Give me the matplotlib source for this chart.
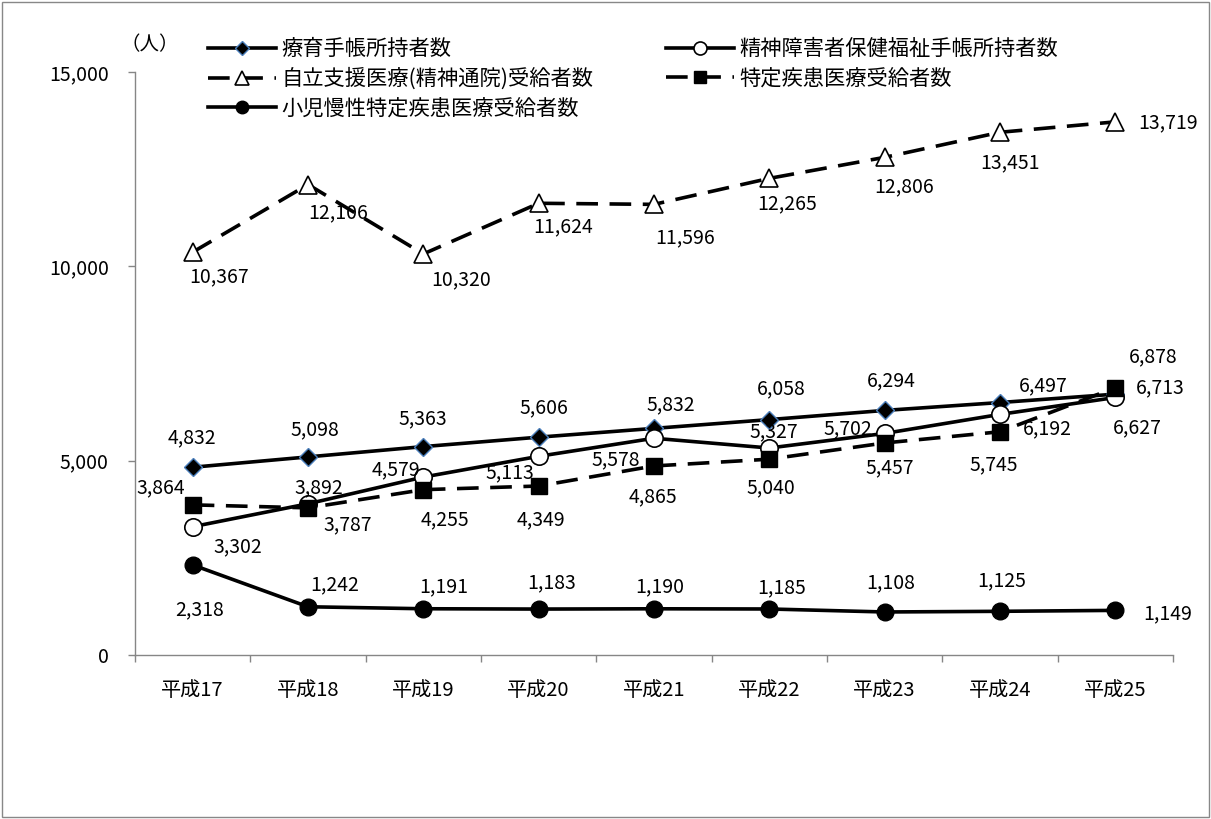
import matplotlib
matplotlib.use("Agg")
import matplotlib.pyplot as plt
from matplotlib.patches import Rectangle
from matplotlib.ticker import FuncFormatter, FixedLocator

plt.rcParams["font.family"] = ["Noto Sans CJK JP", "DejaVu Sans"]

# --------------------------------------------------
# DATA
# --------------------------------------------------
years = ["平成17", "平成18", "平成19", "平成20", "平成21",
         "平成22", "平成23", "平成24", "平成25"]

ryoiku = [4832, 5098, 5363, 5606, 5832, 6058, 6294, 6497, 6713]
seishin_techo = [3302, 3892, 4579, 5113, 5578, 5327, 5702, 6192, 6627]
jiritsu = [10367, 12106, 10320, 11624, 11596, 12265, 12806, 13451, 13719]
tokutei = [3864, 3787, 4255, 4349, 4865, 5040, 5457, 5745, 6878]
shoni = [2318, 1242, 1191, 1183, 1190, 1185, 1108, 1125, 1149]

names = ["療育手帳所持者数", "精神障害者保健福祉手帳所持者数",
         "自立支援医療(精神通院)受給者数", "特定疾患医療受給者数",
         "小児慢性特定疾患医療受給者数"]

# label offsets in pixels (dx right, dy down)
off_ryoiku = [(-1, -29), (7, -27), (-1, -28), (5, -29), (17, -24),
              (12, -31), (7, -30), (43, -17), (45, -6)]
off_seishin = [(45, 20), (11, -16), (-27, -7), (-29, 16), (-38, 22),
               (4, -16), (-37, -5), (47, 14), (22, 30)]
off_jiritsu = [(26, 25), (30, 28), (38, 26), (24, 24), (31, 33),
               (18, 25), (19, 29), (10, 31), (53, 1)]
off_tokutei = [(-32, -17), (40, 17), (22, 30), (2, 34), (-1, 31),
               (2, 29), (5, 25), (-6, 33), (38, -31)]
off_shoni = [(7, 45), (27, -22), (20, -22), (13, -26), (6, -22),
             (12, -21), (6, -29), (2, -31), (52, 3)]

# --------------------------------------------------
# FIGURE
# --------------------------------------------------
fig = plt.figure(figsize=(12.11, 8.19), dpi=100)
ax = fig.add_axes([0.1115, 0.2002, 0.8571, 0.7118])

x = list(range(len(years)))
lw = 2.6
dash = (0, (6, 3.2))

series = [
    (ryoiku, off_ryoiku, dict(linestyle="-", marker="D", markersize=9,
                              markerfacecolor="black", markeredgecolor="#4A7EBB",
                              markeredgewidth=1.0)),
    (seishin_techo, off_seishin, dict(linestyle="-", marker="o", markersize=12.5,
                                      markerfacecolor="white", markeredgecolor="black",
                                      markeredgewidth=1.2)),
    (jiritsu, off_jiritsu, dict(linestyle=dash, marker="^", markersize=13,
                                markerfacecolor="white", markeredgecolor="black",
                                markeredgewidth=1.2)),
    (tokutei, off_tokutei, dict(linestyle=dash, marker="s", markersize=11.5,
                                markerfacecolor="black", markeredgecolor="black")),
    (shoni, off_shoni, dict(linestyle="-", marker="o", markersize=12,
                            markerfacecolor="black", markeredgecolor="black")),
]

handles = []
for i, (vals, offs, style) in enumerate(series):
    h, = ax.plot(x, vals, color="black", linewidth=lw, label=names[i],
                 zorder=3 + i, **style)
    handles.append(h)
    for xi, v, (dx, dy) in zip(x, vals, offs):
        ax.annotate(f"{v:,}", (xi, v), xytext=(dx, -dy),
                    textcoords="offset pixels", ha="center", va="center",
                    fontsize=14, zorder=10)

ax.set_xlim(-0.5, len(years) - 0.5)
ax.set_ylim(0, 15000)
ax.set_yticks([0, 5000, 10000, 15000])
ax.yaxis.set_major_formatter(FuncFormatter(lambda v, p: f"{int(v):,}"))
ax.set_xticks(x)
ax.set_xticklabels(years)
ax.xaxis.set_minor_locator(FixedLocator([i - 0.5 for i in range(len(years) + 1)]))
ax.tick_params(axis="x", which="major", length=0, pad=18, labelsize=14.5)
ax.tick_params(axis="x", which="minor", length=5, color="#868686", width=1)
ax.tick_params(axis="y", length=5, color="#868686", width=1, labelsize=14, pad=14)

for side in ["top", "right"]:
    ax.spines[side].set_visible(False)
for side in ["left", "bottom"]:
    ax.spines[side].set_color("#868686")
    ax.spines[side].set_linewidth(1)

# legend, filled column by column
order = [0, 2, 4, 1, 3]
fig.legend([handles[k] for k in order], [names[k] for k in order],
           loc="upper left", bbox_to_anchor=(208 / 1211, 1 - 38 / 819),
           ncol=2, frameon=False, fontsize=15.3, handlelength=3.2,
           handletextpad=0.25, labelspacing=0.36, columnspacing=3.4,
           markerscale=0.75, borderpad=0, borderaxespad=0)

fig.text(150 / 1211, 1 - 45 / 819, "（人）", fontsize=14, ha="center", va="center")

fig.patches.append(Rectangle((0.002, 0.002), 0.996, 0.996, transform=fig.transFigure,
                             fill=False, edgecolor="#888888", linewidth=1))

plt.savefig("out.png", dpi=100)
